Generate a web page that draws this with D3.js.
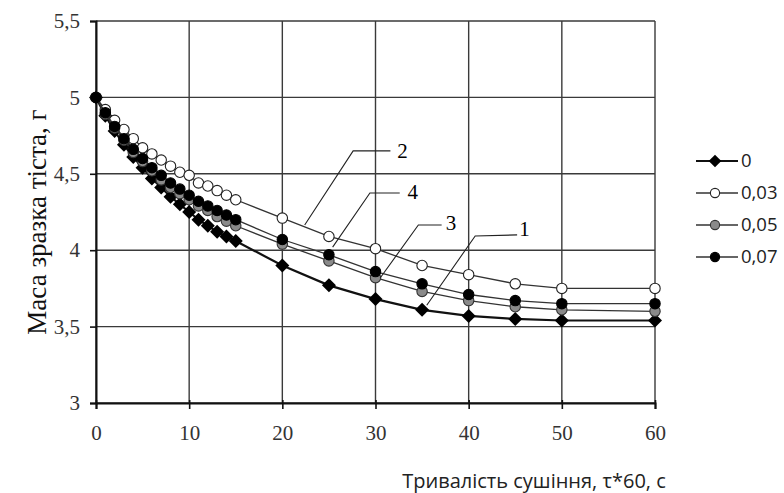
<!DOCTYPE html>
<html lang="uk">
<head>
  <meta charset="UTF-8" />
  <title>Маса зразка тіста</title>
  <style>
    body { margin: 0; background: #fff; }
    svg { display: block; }
  </style>
</head>
<body>
  <svg id="chart" width="784" height="493"></svg>

  <script src="https://cdn.jsdelivr.net/npm/d3@7/dist/d3.min.js"></script>
  <script>
    // time, min (x60 s)
    const times = [0, 1, 2, 3, 4, 5, 6, 7, 8, 9, 10, 11, 12, 13, 14, 15, 20, 25, 30, 35, 40, 45, 50, 60];

    // dough sample mass, g
    const mass0   = [5.00, 4.88, 4.78, 4.69, 4.61, 4.54, 4.47, 4.41, 4.35, 4.30, 4.25, 4.20, 4.16, 4.12, 4.09, 4.06, 3.90, 3.77, 3.68, 3.61, 3.57, 3.55, 3.54, 3.54];
    const mass003 = [5.00, 4.92, 4.85, 4.79, 4.73, 4.67, 4.63, 4.59, 4.55, 4.51, 4.49, 4.44, 4.42, 4.39, 4.36, 4.33, 4.21, 4.09, 4.01, 3.90, 3.84, 3.78, 3.75, 3.75];
    const mass005 = [5.00, 4.89, 4.80, 4.72, 4.64, 4.58, 4.52, 4.46, 4.41, 4.37, 4.33, 4.29, 4.26, 4.22, 4.19, 4.16, 4.04, 3.93, 3.82, 3.73, 3.67, 3.63, 3.61, 3.60];
    const mass007 = [5.00, 4.90, 4.81, 4.73, 4.66, 4.60, 4.54, 4.49, 4.44, 4.40, 4.36, 4.32, 4.29, 4.26, 4.23, 4.20, 4.07, 3.97, 3.86, 3.78, 3.71, 3.67, 3.65, 3.65];

    const seriesNames = ["0", "0,03", "0,05", "0,07"];
    const xTicks = [0, 10, 20, 30, 40, 50, 60];
    const yTicks = [3, 3.5, 4, 4.5, 5, 5.5];

    // curve numbers with leader lines (data coordinates)
    const calloutText = ["2", "4", "3", "1"];
    const calloutAt = [[32.9, 4.65], [34.0, 4.38], [38.1, 4.18], [46.0, 4.14]];
    const calloutLines = [
      [[31.6, 4.65], [27.6, 4.65], [22.4, 4.165]],
      [[32.6, 4.374], [29.4, 4.374], [25.4, 4.02]],
      [[37.1, 4.165], [34.6, 4.165], [30.5, 3.818]],
      [[45.2, 4.10], [40.7, 4.093], [35.5, 3.64]]
    ];

    const styles = [
      { marker: "diamond", fill: "#000", stroke: "#000", line: "#111", width: 2.2 },
      { marker: "circle", fill: "#fff", stroke: "#222", line: "#333", width: 1.3 },
      { marker: "circle", fill: "#8a8a8a", stroke: "#333", line: "#333", width: 1.3 },
      { marker: "circle", fill: "#000", stroke: "#000", line: "#333", width: 1.3 }
    ];

    const allSeries = [mass0, mass003, mass005, mass007].map((vals, i) => ({
      name: seriesNames[i],
      style: styles[i],
      points: times.map((t, j) => ({ t, m: vals[j] }))
    }));

    const svg = d3.select("#chart");
    const plotL = 96, plotR = 655, plotT = 21, plotB = 403;

    const x = d3.scaleLinear().domain([0, 60]).range([plotL, plotR]);
    const y = d3.scaleLinear().domain([3, 5.5]).range([plotB, plotT]);
    const fmt = d => String(d).replace(".", ",");

    // grid
    const grid = svg.append("g").attr("stroke", "#3a3a3a").attr("stroke-width", 1.4);
    grid.selectAll("line.h").data(yTicks).join("line").attr("class", "h")
      .attr("x1", plotL).attr("x2", plotR)
      .attr("y1", d => y(d)).attr("y2", d => y(d));
    grid.selectAll("line.v").data(xTicks).join("line").attr("class", "v")
      .attr("y1", plotT).attr("y2", plotB)
      .attr("x1", d => x(d)).attr("x2", d => x(d));

    // axes
    const yAxis = svg.append("g").attr("transform", `translate(${plotL},0)`)
      .call(d3.axisLeft(y).tickValues(yTicks).tickFormat(fmt).tickSize(6).tickPadding(10));
    const xAxis = svg.append("g").attr("transform", `translate(0,${plotB})`)
      .call(d3.axisBottom(x).tickValues(xTicks).tickSize(6).tickPadding(16));
    [yAxis, xAxis].forEach(a => {
      a.attr("font-family", "'Liberation Serif', serif").attr("font-size", 21);
      a.select(".domain").attr("stroke", "#111").attr("stroke-width", 2);
      a.selectAll(".tick line").attr("stroke", "#111").attr("stroke-width", 1.6);
      a.selectAll(".tick text").attr("fill", "#333");
    });
    xAxis.selectAll(".tick line").attr("y1", -3);

    // series
    const line = d3.line().x(d => x(d.t)).y(d => y(d.m));
    const diamond = "M0,-7L7,0L0,7L-7,0Z";

    allSeries.forEach(s => {
      const g = svg.append("g");
      g.append("path")
        .attr("d", line(s.points))
        .attr("fill", "none")
        .attr("stroke", s.style.line)
        .attr("stroke-width", s.style.width);
      if (s.style.marker === "diamond") {
        g.selectAll("path.mk").data(s.points).join("path")
          .attr("class", "mk")
          .attr("d", diamond)
          .attr("transform", d => `translate(${x(d.t)},${y(d.m)})`)
          .attr("fill", s.style.fill);
      } else {
        g.selectAll("circle").data(s.points).join("circle")
          .attr("cx", d => x(d.t)).attr("cy", d => y(d.m)).attr("r", 5.2)
          .attr("fill", s.style.fill).attr("stroke", s.style.stroke).attr("stroke-width", 1.1);
      }
    });

    // callouts
    const leader = d3.line().x(d => x(d[0])).y(d => y(d[1]));
    calloutLines.forEach((pts, i) => {
      svg.append("path").attr("d", leader(pts))
        .attr("fill", "none").attr("stroke", "#222").attr("stroke-width", 1.1);
      svg.append("text")
        .attr("x", x(calloutAt[i][0])).attr("y", y(calloutAt[i][1]))
        .attr("dy", "0.35em").attr("text-anchor", "middle")
        .style("font-family", "'Liberation Serif', serif").style("font-size", "21px")
        .text(calloutText[i]);
    });

    // legend
    const legend = svg.append("g").attr("transform", "translate(696,161)");
    allSeries.forEach((s, i) => {
      const row = legend.append("g").attr("transform", `translate(0,${i * 32})`);
      row.append("line").attr("x1", 0).attr("x2", 42)
        .attr("stroke", s.style.line).attr("stroke-width", s.style.width);
      if (s.style.marker === "diamond") {
        row.append("path").attr("d", diamond).attr("transform", "translate(19,0) scale(0.9)").attr("fill", "#000");
      } else {
        row.append("circle").attr("cx", 19).attr("r", 4.6)
          .attr("fill", s.style.fill).attr("stroke", s.style.stroke).attr("stroke-width", 1.1);
      }
      row.append("text").attr("x", 45).attr("dy", "0.35em")
        .style("font-family", "'Open Sans', sans-serif").style("font-size", "18.5px").attr("fill", "#222")
        .text(s.name);
    });

    // axis titles
    svg.append("text")
      .attr("transform", `translate(37,222) rotate(-90)`)
      .attr("text-anchor", "middle").attr("dy", "0.35em")
      .style("font-family", "'Liberation Serif', serif").style("font-size", "27px").attr("fill", "#111")
      .text("Маса зразка тіста, г");

    svg.append("text")
      .attr("x", 534).attr("y", 481).attr("text-anchor", "middle").attr("dy", "0.35em")
      .style("font-family", "'Open Sans', sans-serif").style("font-size", "20px").attr("fill", "#222")
      .text("Тривалість сушіння, τ*60, с");
  </script>
</body>
</html>
